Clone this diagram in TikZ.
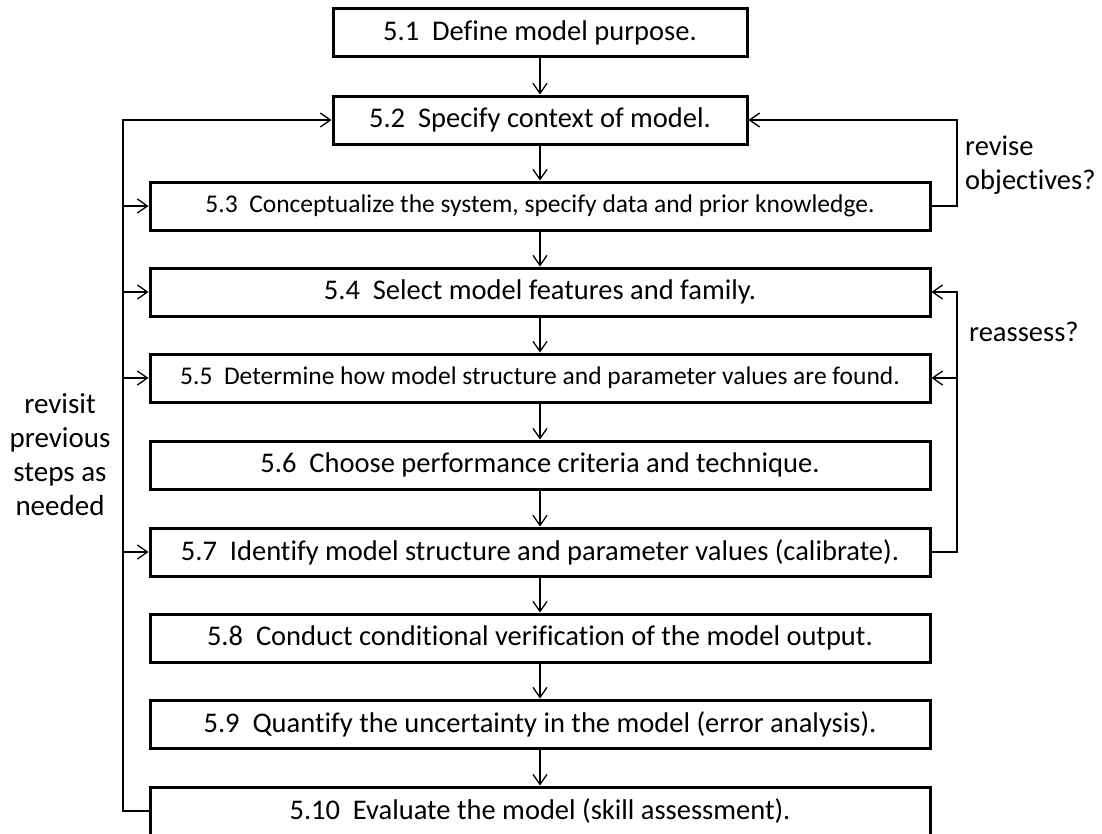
\documentclass[tikz,border=0pt]{standalone}
\usepackage{fontspec}
\setmainfont{Carlito}[Ligatures={NoCommon}]
\usetikzlibrary{arrows.meta}
\begin{document}
\begin{tikzpicture}[x=1pt,y=-1pt,
  stepbox/.style={draw,line width=3pt,inner sep=0pt,minimum height=48pt,font=\fontsize{28.5}{33}\selectfont},
  narrow/.style={stepbox,minimum width=414pt},
  wide/.style={stepbox,minimum width=780pt},
  small/.style={font=\fontsize{25.5}{30}\selectfont},
  conn/.style={line width=1.3pt,-{Straight Barb[length=10pt,width=14pt,line width=1.3pt]}},
  lbl/.style={font=\fontsize{28.5}{34}\selectfont,inner sep=0pt}]
\clip (0,0) rectangle (1102,833);
\fill[white] (0,0) rectangle (1102,833);
\node[narrow] (b1) at (540,32.5) {5.1\ \ Define model purpose.};
\node[narrow] (b2) at (540,120) {5.2\ \ Specify context of model.};
\node[wide,small] (b3) at (540,206) {5.3\ \ Conceptualize the system, specify data and prior knowledge.};
\node[wide] (b4) at (540,292) {5.4\ \ Select model features and family.};
\node[wide,small] (b5) at (540,378) {5.5\ \ Determine how model structure and parameter values are found.};
\node[wide] (b6) at (540,465) {5.6\ \ Choose performance criteria and technique.};
\node[wide] (b7) at (540,552) {5.7\ \ Identify model structure and parameter values (calibrate).};
\node[wide] (b8) at (540,638) {5.8\ \ Conduct conditional verification of the model output.};
\node[wide] (b9) at (540,724) {5.9\ \ Quantify the uncertainty in the model (error analysis).};
\node[wide] (b10) at (540,811) {5.10\ \ Evaluate the model (skill assessment).};
\foreach \a/\b in {b1/b2,b2/b3,b3/b4,b4/b5,b5/b6,b6/b7,b7/b8,b8/b9,b9/b10}
  \draw[conn] (\a.south) -- (\b.north);
\coordinate (lx) at (123,0);
\coordinate (rx) at (957,0);
% left loop
\draw[conn] (b10.west) -- (b10.west -| lx) |- (b2.west);
\foreach \t in {b3,b4,b5,b7}
  \draw[conn] (\t.west -| lx) -- (\t.west);
% right loops
\draw[conn] (b3.east) -- (b3.east -| rx) |- (b2.east);
\draw[conn] (b7.east) -- (b7.east -| rx) |- (b4.east);
\draw[conn] (b5.east -| rx) -- (b5.east);
\node[lbl,anchor=west,align=left] (t1) at (965,165) {revise\\objectives?};
\node[lbl,anchor=west] (t2) at (969,332) {reassess?};
\node[lbl,align=center,font=\fontsize{29}{34}\selectfont] (t3) at (60,455) {revisit\\previous\\steps as\\needed};
\end{tikzpicture}
\end{document}
